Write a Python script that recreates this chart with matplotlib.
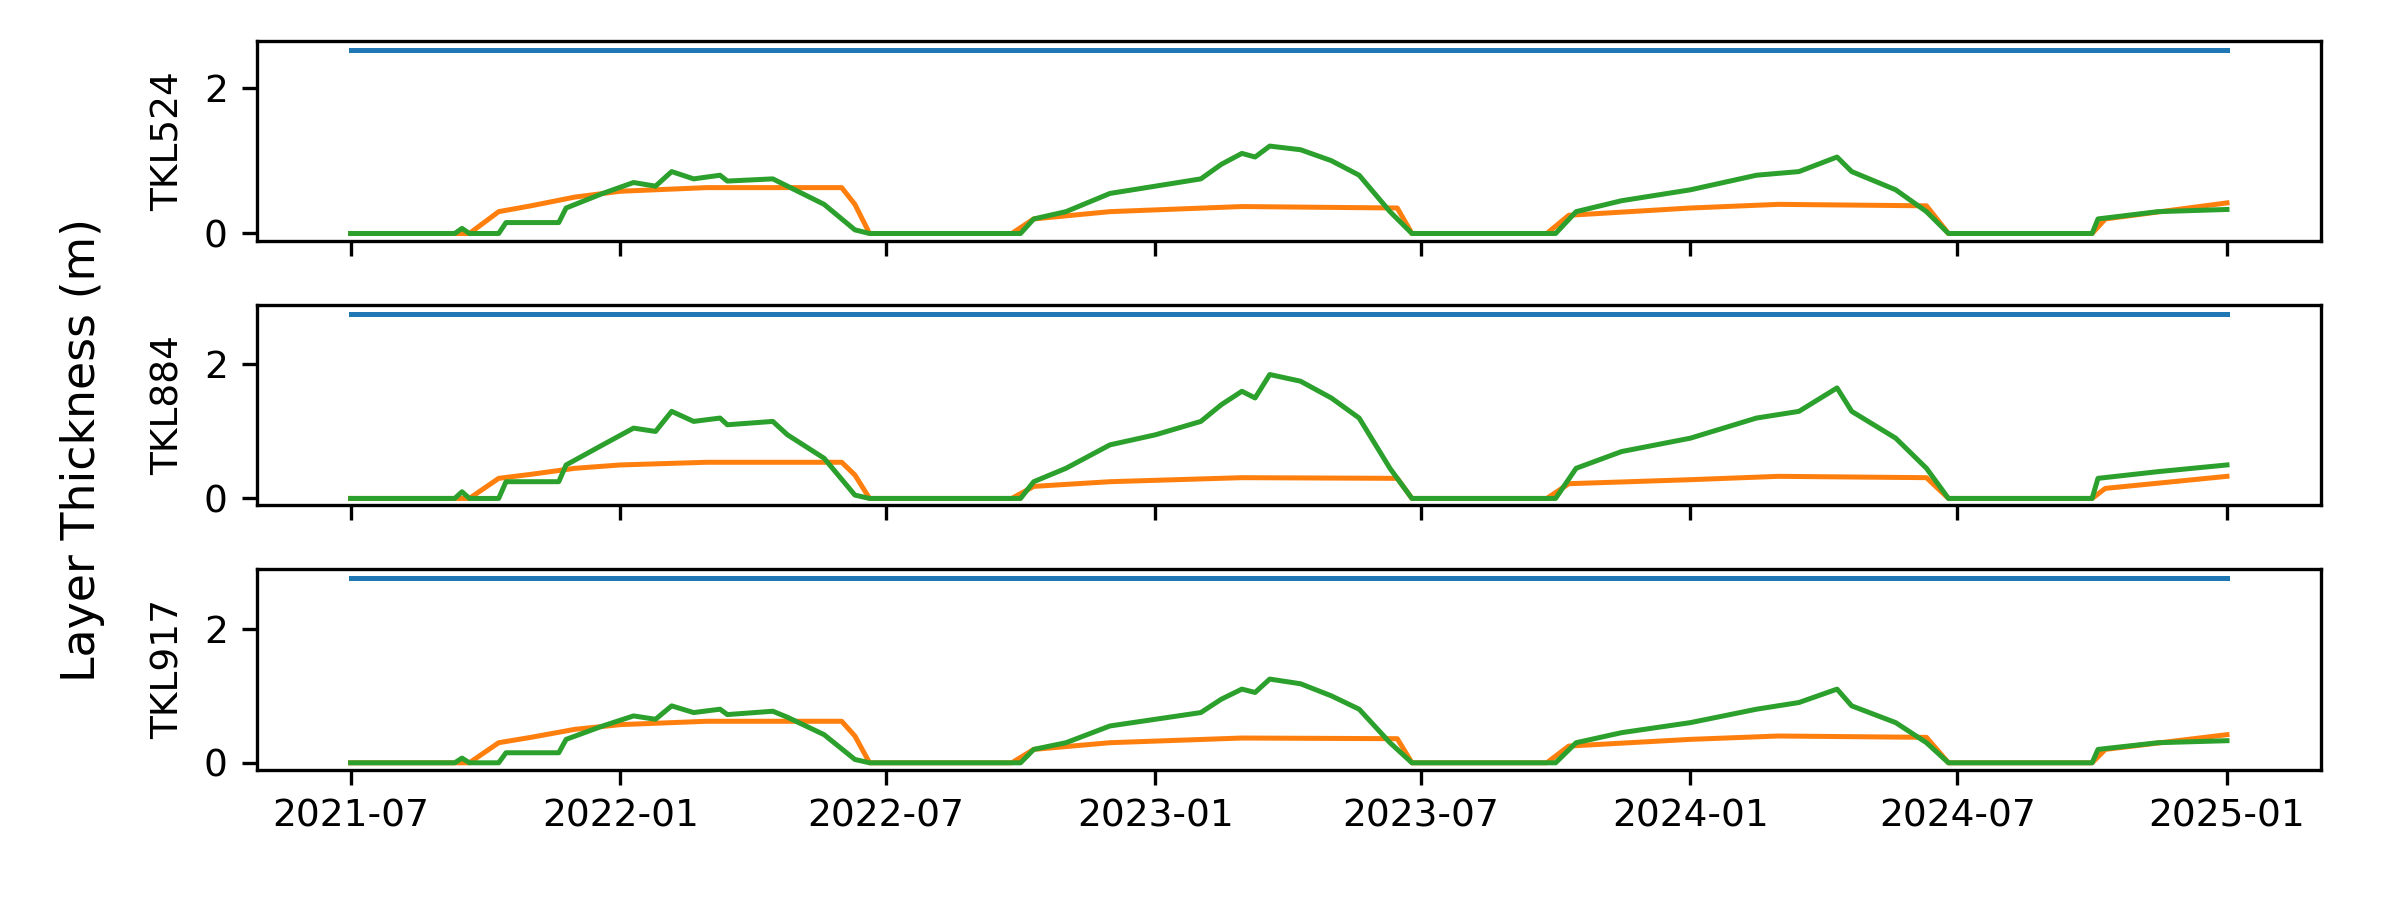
import pandas as pd
import matplotlib.pyplot as plt

# -----------------------------------------------------------
# Data (breakpoints)
# -----------------------------------------------------------
green_dates = ["2021-07-01", "2021-09-10", "2021-09-15", "2021-09-20", "2021-10-10", "2021-10-15",
               "2021-11-20", "2021-11-25", "2021-12-20", "2022-01-10", "2022-01-25", "2022-02-05",
               "2022-02-20", "2022-03-10", "2022-03-15", "2022-04-15", "2022-04-25", "2022-05-20",
               "2022-06-10", "2022-06-20", "2022-10-01", "2022-10-10", "2022-11-01", "2022-12-01",
               "2023-01-01", "2023-02-01", "2023-02-15", "2023-03-01", "2023-03-10", "2023-03-20",
               "2023-04-10", "2023-05-01", "2023-05-20", "2023-06-10", "2023-06-25", "2023-10-01",
               "2023-10-15", "2023-11-15", "2024-01-01", "2024-02-15", "2024-03-15", "2024-04-10",
               "2024-04-20", "2024-05-20", "2024-06-10", "2024-06-25", "2024-10-01", "2024-10-05",
               "2024-11-15", "2025-01-01"]
green_524 = [0, 0, 0.07, 0, 0, 0.15, 0.15, 0.35, 0.55, 0.7, 0.65, 0.85, 0.75, 0.8, 0.72, 0.75, 0.65, 0.4,
             0.05, 0, 0, 0.2, 0.3, 0.55, 0.65, 0.75, 0.95, 1.1, 1.05, 1.2, 1.15, 1.0, 0.8, 0.3, 0, 0,
             0.3, 0.45, 0.6, 0.8, 0.85, 1.05, 0.85, 0.6, 0.3, 0, 0, 0.2, 0.3, 0.33]
green_884 = [0, 0, 0.1, 0, 0, 0.25, 0.25, 0.5, 0.8, 1.05, 1.0, 1.3, 1.15, 1.2, 1.1, 1.15, 0.95, 0.6,
             0.05, 0, 0, 0.25, 0.45, 0.8, 0.95, 1.15, 1.4, 1.6, 1.5, 1.85, 1.75, 1.5, 1.2, 0.45, 0, 0,
             0.45, 0.7, 0.9, 1.2, 1.3, 1.65, 1.3, 0.9, 0.45, 0, 0, 0.3, 0.4, 0.5]
green_917 = [0, 0, 0.07, 0, 0, 0.15, 0.15, 0.35, 0.55, 0.7, 0.65, 0.85, 0.75, 0.8, 0.72, 0.77, 0.68, 0.42,
             0.05, 0, 0, 0.2, 0.3, 0.55, 0.65, 0.75, 0.95, 1.1, 1.05, 1.25, 1.18, 1.0, 0.8, 0.3, 0, 0,
             0.3, 0.45, 0.6, 0.8, 0.9, 1.1, 0.85, 0.6, 0.3, 0, 0, 0.2, 0.3, 0.33]

orange_dates = ["2021-07-01", "2021-09-20", "2021-10-10", "2021-11-01", "2021-12-01", "2022-01-01",
                "2022-03-01", "2022-06-01", "2022-06-10", "2022-06-20", "2022-09-25", "2022-10-10",
                "2022-12-01", "2023-03-01", "2023-06-15", "2023-06-25", "2023-09-25", "2023-10-10",
                "2024-01-01", "2024-03-01", "2024-06-10", "2024-06-25", "2024-10-01", "2024-10-10",
                "2025-01-01"]
orange_524 = [0, 0, 0.3, 0.38, 0.5, 0.58, 0.63, 0.63, 0.4, 0, 0, 0.2, 0.3, 0.37, 0.35, 0, 0, 0.25,
              0.35, 0.4, 0.38, 0, 0, 0.2, 0.42]
orange_884 = [0, 0, 0.3, 0.36, 0.45, 0.5, 0.54, 0.54, 0.35, 0, 0, 0.18, 0.25, 0.31, 0.3, 0, 0, 0.22,
              0.28, 0.33, 0.31, 0, 0, 0.15, 0.33]
orange_917 = [0, 0, 0.3, 0.38, 0.5, 0.57, 0.62, 0.62, 0.4, 0, 0, 0.2, 0.3, 0.37, 0.36, 0, 0, 0.25,
              0.35, 0.4, 0.38, 0, 0, 0.2, 0.42]

blue_dates = ["2021-07-01", "2025-01-01"]
blue_levels = [2.52, 2.76, 2.76]
stations = ["TKL524", "TKL884", "TKL917"]

# -----------------------------------------------------------
# Figure
# -----------------------------------------------------------
fig, axes = plt.subplots(3, 1, figsize=(8, 3), dpi=300, sharex=True)
gd = pd.to_datetime(green_dates)
od = pd.to_datetime(orange_dates)
bd = pd.to_datetime(blue_dates)
greens = [green_524, green_884, green_917]
oranges = [orange_524, orange_884, orange_917]

for ax, name, lvl, g, o in zip(axes, stations, blue_levels, greens, oranges):
    ax.plot(bd, [lvl, lvl], color="tab:blue", lw=1.2)
    ax.plot(od, o, color="tab:orange", lw=1.2)
    ax.plot(gd, g, color="tab:green", lw=1.2)
    ax.set_ylabel(name, fontsize=9)
    ax.set_ylim(-0.1, lvl + 0.13)
    ax.set_yticks([0, 2])
    ax.tick_params(labelsize=9)

fig.supylabel("Layer Thickness (m)", fontsize=11, x=0.025)
plt.subplots_adjust(left=0.107, right=0.967, top=0.955, bottom=0.145, hspace=0.32)
plt.savefig("out.png")
